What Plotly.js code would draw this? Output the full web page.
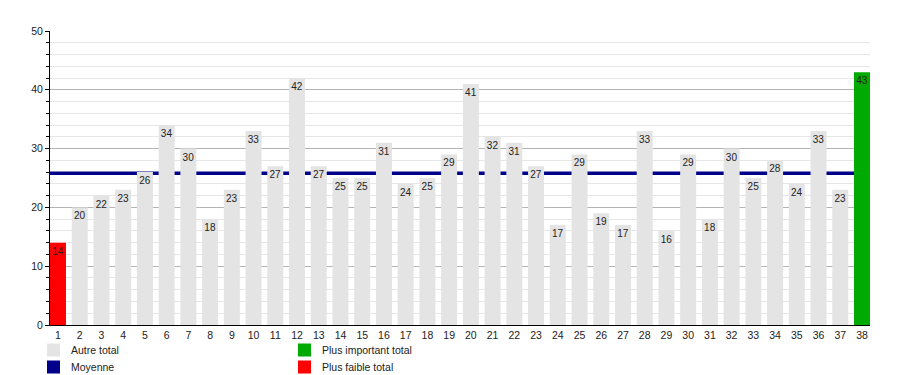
<!DOCTYPE html>
<html><head><meta charset="utf-8">
<script src="https://cdn.plot.ly/plotly-3.0.1.min.js"></script>
<style>body{margin:0;background:#fff}#c{width:900px;height:375px}</style>
</head><body><div id="c"></div>
<script>
const categories = Array.from({length:38},(_,i)=>String(i+1));
const totals = [14,20,22,23,26,34,30,18,23,33,27,42,27,25,25,31,24,25,29,41,32,31,27,17,29,19,17,33,16,29,18,30,25,28,24,33,23,43];
const meanValue = 25.8;
const legendLabels = ["Autre total","Moyenne","Plus important total","Plus faible total"];
const colors = {other:"#e4e4e4", mean:"#00008b", max:"#00aa00", min:"#ff0000"};

const maxV = Math.max(...totals), minV = Math.min(...totals);
const barColors = totals.map(v => v===maxV ? colors.max : (v===minV ? colors.min : colors.other));
const xs = categories.map(Number);

// mean line on the base subplot, bars on an overlaid subplot so bars hide it
const meanTrace = {
  type:"scatter", mode:"lines", x:[0, xs.length+1], y:[meanValue, meanValue],
  line:{color:colors.mean, width:3.5}, xaxis:"x", yaxis:"y", showlegend:false, hoverinfo:"skip"
};
const barTrace = {
  type:"bar", x: xs, y: totals, text: totals.map(String), xaxis:"x", yaxis:"y2",
  textposition:"inside", insidetextanchor:"end", textangle:0,
  constraintext:"none",
  textfont:{family:"Liberation Sans, Arial, sans-serif", size:10, color:"#222"},
  marker:{color:barColors, line:{width:0}},
  hoverinfo:"x+y", showlegend:false
};

const legColors = [colors.other, colors.mean, colors.max, colors.min];
const legPos = [[47,350],[47,367],[298,350],[298,367]];
const shapes = [];
const annotations = [];
legendLabels.forEach((t,i)=>{
  const [px,py] = legPos[i];
  const toPX = x => (x-50)/820, toPY = y => (325-y)/294;
  shapes.push({type:"rect", xref:"paper", yref:"paper",
    x0:toPX(px), x1:toPX(px+13), y0:toPY(py-6.5), y1:toPY(py+6.5),
    fillcolor:legColors[i], line:{width:0}});
  annotations.push({xref:"paper", yref:"paper", x:toPX(px+22), y:toPY(py),
    xanchor:"left", yanchor:"middle", text:t, showarrow:false,
    font:{family:"Liberation Sans, Arial, sans-serif", size:10.5, color:"#222"}});
});

const layout = {
  width:900, height:375,
  margin:{l:50, r:30, t:31, b:50},
  paper_bgcolor:"#fff", plot_bgcolor:"#fff",
  bargap:0.264,
  font:{family:"Liberation Sans, Arial, sans-serif", size:11, color:"#222"},
  xaxis:{range:[0.632,38.368], tickvals:xs, ticktext:categories, showgrid:false,
    showline:true, linecolor:"#000", linewidth:1, ticks:"", zeroline:false,
    tickfont:{size:10.5, color:"#222"}, fixedrange:true},
  yaxis:{range:[0,50], dtick:10, showgrid:true, gridcolor:"#b4b4b4", gridwidth:1,
    showline:true, linecolor:"#000", linewidth:1, ticks:"outside", ticklen:4, tickcolor:"#000",
    zeroline:false, tickfont:{size:10.5, color:"#222"},
    minor:{dtick:2, showgrid:true, gridcolor:"#e6e6e6", ticks:"outside", ticklen:3, tickcolor:"#000"}},
  yaxis2:{range:[0,50], overlaying:"y", showgrid:false, showticklabels:false, ticks:"",
    showline:false, zeroline:false},
  shapes, annotations
};
Plotly.newPlot("c",[meanTrace, barTrace],layout,{displayModeBar:false, staticPlot:true});
</script></body></html>
